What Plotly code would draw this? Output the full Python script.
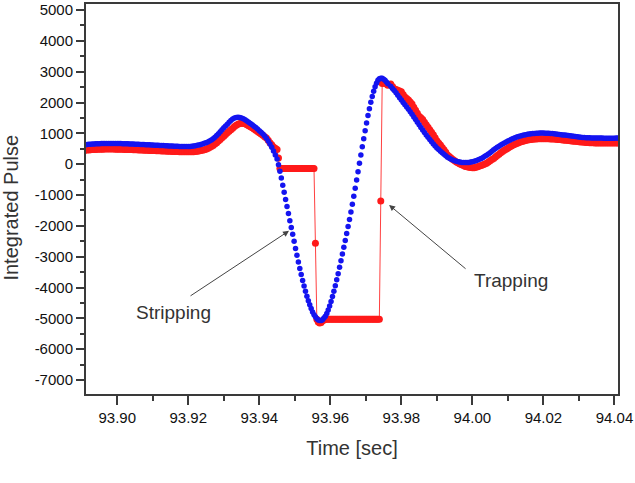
import numpy as np
import plotly.graph_objects as go

# ---- sample times (s), three segments of the record ----
t_left = np.round(np.arange(93.8910, 93.94475, 0.0005), 4)   # 93.8910 .. 93.9445 (108)
t_dip = np.round(np.arange(93.9450, 93.97625, 0.0004), 4)    # 93.9450 .. 93.9762 (79)
t_right = np.round(np.arange(93.9770, 94.04125, 0.0005), 4)  # 93.9770 .. 94.0410 (129)

# ---- blue series ----
blue_left = [630, 638, 645, 650, 655, 659, 662, 665, 668, 670,
             672, 673, 674, 675, 675, 675, 674, 673, 672, 671,
             669, 667, 665, 663, 661, 659, 656, 654, 651, 649,
             646, 643, 640, 637, 634, 631, 628, 625, 622, 619,
             616, 613, 610, 607, 604, 601, 598, 595, 592, 589,
             586, 583, 581, 579, 577, 575, 574, 573, 574, 578,
             585, 592, 600, 612, 625, 642, 660, 680, 700, 723,
             750, 788, 830, 878, 930, 988, 1050, 1115, 1180, 1242,
             1300, 1362, 1420, 1465, 1500, 1515, 1520, 1513, 1500, 1472,
             1440, 1400, 1360, 1320, 1280, 1236, 1190, 1140, 1090, 1036,
             980, 912, 840, 755, 660, 550, 430, 300]
blue_dip = [170, -20, -230, -450, -680, -910, -1140, -1370, -1600, -1830,
            -2050, -2270, -2500, -2730, -2950, -3170, -3380, -3580, -3770, -3950,
            -4120, -4280, -4430, -4560, -4680, -4790, -4880, -4950, -5010, -5050,
            -5070, -5065, -5040, -4990, -4930, -4840, -4730, -4600, -4450, -4290,
            -4120, -3940, -3750, -3550, -3340, -3130, -2910, -2690, -2470, -2250,
            -2020, -1790, -1550, -1300, -1040, -780, -510, -240, 30, 300,
            570, 830, 1090, 1340, 1580, 1800, 2010, 2200, 2370, 2510,
            2630, 2720, 2770, 2790, 2785, 2760, 2720, 2670, 2610]
blue_right = [2530, 2460, 2390, 2315, 2240, 2160, 2080, 2005, 1930, 1855,
              1780, 1700, 1620, 1535, 1450, 1365, 1280, 1195, 1110, 1030,
              950, 875, 800, 730, 660, 595, 530, 475, 420, 370,
              320, 275, 230, 195, 160, 135, 110, 95, 80, 70,
              60, 57, 55, 57, 60, 70, 80, 95, 110, 135,
              160, 190, 220, 255, 290, 330, 370, 420, 470, 510,
              550, 585, 620, 655, 690, 720, 750, 780, 810, 835,
              860, 880, 900, 918, 935, 948, 960, 970, 980, 988,
              995, 1000, 1005, 1008, 1010, 1010, 1010, 1008, 1005, 1002,
              998, 993, 988, 982, 975, 968, 960, 952, 945, 938,
              930, 922, 915, 908, 900, 892, 885, 878, 870, 866,
              862, 859, 856, 854, 852, 851, 850, 849, 848, 847,
              846, 845, 845, 845, 845, 845, 846, 847, 848]

# ---- red series ----
red_left = [450, 458, 465, 470, 475, 479, 482, 485, 487, 489,
            490, 491, 492, 492, 492, 492, 491, 490, 489, 488,
            486, 484, 482, 480, 478, 476, 474, 472, 469, 467,
            464, 462, 459, 457, 454, 452, 449, 447, 444, 442,
            439, 437, 434, 432, 429, 427, 424, 422, 419, 417,
            414, 412, 410, 408, 406, 404, 403, 402, 402, 403,
            405, 409, 415, 422, 430, 442, 455, 471, 490, 513,
            540, 573, 610, 653, 700, 750, 800, 855, 910, 965,
            1020, 1070, 1120, 1170, 1220, 1262, 1300, 1320, 1330, 1324,
            1310, 1282, 1250, 1215, 1180, 1140, 1100, 1060, 1020, 980,
            940, 895, 850, 780, 700, 630, 560, 520]
red_dip = [474, 203,
           -140, -140, -140, -140, -140, -140, -140, -140, -140, -140,
           -140, -140, -140, -140, -140, -140, -140, -140, -140, -140,
           -140, -140, -140, -140, -140,
           -2560,
           -5030, -5120, -5150, -5130, -5080, -5050,
           -5030, -5030, -5030, -5030, -5030, -5030, -5030, -5030, -5030, -5030,
           -5030, -5030, -5030, -5030, -5030, -5030, -5030, -5030, -5030, -5030,
           -5030, -5030, -5030, -5030, -5030, -5030, -5030, -5030, -5030, -5030,
           -5030, -5030, -5030, -5030, -5030, -5030, -5030, -5030, -5030,
           -1194,
           2620, 2640, 2630, 2600, 2560]
red_right = [2600, 2520, 2450, 2425, 2400, 2375, 2350, 2265, 2180, 2130,
             2080, 2015, 1950, 1850, 1750, 1655, 1560, 1505, 1450, 1365,
             1280, 1200, 1120, 1040, 960, 860, 760, 690, 620, 545,
             470, 385, 300, 250, 200, 155, 110, 75, 40, 10,
             -20, -45, -70, -85, -100, -108, -115, -110, -100, -82,
             -60, -40, -20, 5, 30, 70, 110, 150, 190, 235,
             280, 325, 370, 410, 450, 485, 520, 555, 590, 620,
             650, 675, 700, 720, 740, 755, 770, 783, 795, 803,
             810, 815, 820, 823, 826, 827, 828, 827, 826, 823,
             820, 818, 815, 810, 805, 800, 795, 788, 782, 776,
             770, 763, 756, 749, 742, 736, 730, 724, 718, 713,
             708, 704, 700, 697, 694, 692, 690, 689, 688, 687,
             686, 685, 685, 685, 685, 685, 686, 687, 688]

time = np.concatenate([t_left, t_dip, t_right])
blue = np.concatenate([blue_left, blue_dip, blue_right])
red = np.concatenate([red_left, red_dip, red_right])

x_ticks = [93.90, 93.92, 93.94, 93.96, 93.98, 94.00, 94.02, 94.04]
x_ticklabels = ["93.90", "93.92", "93.94", "93.96", "93.98", "94.00", "94.02", "94.04"]
x_minor = [93.91, 93.93, 93.95, 93.97, 93.99, 94.01, 94.03]
y_ticks = [5000, 4000, 3000, 2000, 1000, 0, -1000, -2000, -3000, -4000, -5000, -6000, -7000]
y_ticklabels = ["5000", "4000", "3000", "2000", "1000", "0", "-1000", "-2000",
                "-3000", "-4000", "-5000", "-6000", "-7000"]
y_minor = [4500, 3500, 2500, 1500, 500, -500, -1500, -2500, -3500, -4500, -5500, -6500]

FONT = "Liberation Sans, Arial, sans-serif"

fig = go.Figure()
fig.add_trace(go.Scatter(
    x=time, y=red, mode="lines+markers",
    line=dict(color="rgba(255,30,30,0.85)", width=1),
    marker=dict(color="#ff1a1a", size=7),
    showlegend=False))
fig.add_trace(go.Scatter(
    x=time, y=blue, mode="markers",
    marker=dict(color="#1414f0", size=5.5),
    showlegend=False))

# arrows
fig.add_annotation(x=93.94837, y=-2160, ax=-100, ay=66, text="", showarrow=True,
                   arrowhead=2, arrowsize=1.2, arrowwidth=1, arrowcolor="#444",
                   standoff=0)
fig.add_annotation(x=93.97654, y=-1321, ax=78, ay=65, text="", showarrow=True,
                   arrowhead=2, arrowsize=1.2, arrowwidth=1, arrowcolor="#444",
                   standoff=0)
# labels
fig.add_annotation(x=93.91594, y=-4796, text="Stripping", showarrow=False,
                   font=dict(family=FONT, size=19, color="#333"))
fig.add_annotation(x=94.01085, y=-3777, text="Trapping", showarrow=False,
                   font=dict(family=FONT, size=19, color="#333"))
# y-axis title (placed as in the reference, slightly below plot centre)
fig.add_annotation(xref="paper", yref="paper", x=-0.141, y=0.478,
                   text="Integrated Pulse", textangle=-90, showarrow=False,
                   xanchor="center", yanchor="middle",
                   font=dict(family=FONT, size=20, color="#333"))

axis_common = dict(
    showgrid=False, zeroline=False, showline=True, linecolor="#3a3a3a",
    linewidth=2, mirror=True, ticks="outside", tickcolor="#3a3a3a",
    tickwidth=1.5, tickfont=dict(family=FONT, size=15, color="#111"),
)
fig.update_xaxes(
    range=[93.8912, 94.0410], tickmode="array", tickvals=x_ticks,
    ticktext=x_ticklabels, ticklen=9,
    minor=dict(tickvals=x_minor, ticks="outside", ticklen=5, tickcolor="#3a3a3a", tickwidth=1.5),
    title=dict(text="Time [sec]", font=dict(family=FONT, size=20, color="#333"), standoff=16),
    **axis_common)
fig.update_yaxes(
    range=[-7452, 5197], tickmode="array", tickvals=y_ticks,
    ticktext=y_ticklabels, ticklen=8,
    minor=dict(tickvals=y_minor, ticks="outside", ticklen=4, tickcolor="#3a3a3a", tickwidth=1.5),
    **axis_common)

fig.update_layout(
    width=635, height=483, autosize=False,
    margin=dict(l=86, r=17, t=2, b=89),
    paper_bgcolor="white", plot_bgcolor="white",
    font=dict(family=FONT),
)

fig.write_html("out.html")
